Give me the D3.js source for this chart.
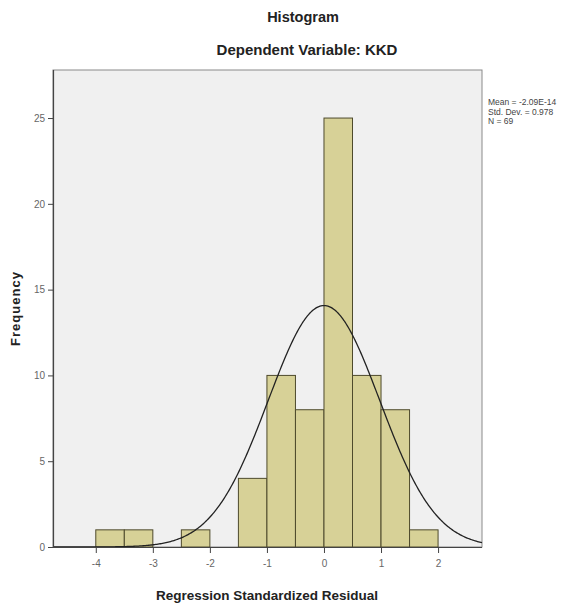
<!DOCTYPE html>
<html>
<head>
<meta charset="utf-8">
<script src="https://cdn.jsdelivr.net/npm/d3@7"></script>
<style>
	body { margin: 0; background: #fff; }
	text { font-family: "Liberation Sans", Arial, sans-serif; }
</style>
</head>
<body>
<div id="chart"></div>
<script>
// bins of width 0.5, lower edges
const binStarts = [-4, -3.5, -3, -2.5, -2, -1.5, -1, -0.5, 0, 0.5, 1, 1.5]
const counts = [1, 1, 0, 1, 0, 4, 10, 8, 25, 10, 8, 1]
const xTicks = [-4, -3, -2, -1, 0, 1, 2]
const yTicks = [0, 5, 10, 15, 20, 25]
const statLines = ["Mean = -2.09E-14", "Std. Dev. = 0.978", "N = 69"]
const mean = -2.09e-14
const sd = 0.978
const n = 69
const binWidth = 0.5

const width = 581, height = 609
const margin = { top: 70, right: 99, bottom: 62, left: 53 }

const svg = d3.select("#chart").append("svg").attr("width", width).attr("height", height)

const x = d3.scaleLinear().domain([-4.75, 2.77]).range([margin.left, width - margin.right])
const y = d3.scaleLinear().domain([0, 27.8]).range([height - margin.bottom, margin.top])

// plot background + frame
svg.append("rect")
	.attr("x", margin.left)
	.attr("y", margin.top)
	.attr("width", width - margin.right - margin.left)
	.attr("height", y(0) - margin.top)
	.attr("fill", "#f0f0f0")
	.attr("stroke", "#8a8a8a")
	.attr("stroke-width", 1)

// bars
svg.selectAll(".bar")
	.data(binStarts.map((s, i) => ({ x0: s, x1: s + binWidth, c: counts[i] })).filter(d => d.c > 0))
	.enter()
	.append("rect")
	.attr("class", "bar")
	.attr("x", d => x(d.x0))
	.attr("y", d => y(d.c))
	.attr("width", d => x(d.x1) - x(d.x0))
	.attr("height", d => y(0) - y(d.c))
	.attr("fill", "#d7d197")
	.attr("stroke", "#4e4a2c")
	.attr("stroke-width", 1)

// normal curve from the reported mean / sd / N
const pdf = v => Math.exp(-0.5 * ((v - mean) / sd) ** 2) / (sd * Math.sqrt(2 * Math.PI))
const curvePts = d3.range(x.domain()[0], x.domain()[1] + 0.001, 0.02).map(v => [v, n * binWidth * pdf(v)])
svg.append("path")
	.datum(curvePts)
	.attr("d", d3.line().x(d => x(d[0])).y(d => y(d[1])))
	.attr("fill", "none")
	.attr("stroke", "#222")
	.attr("stroke-width", 1.3)

// axes
const xAxis = svg.append("g")
	.attr("transform", `translate(0,${y(0)})`)
	.call(d3.axisBottom(x).tickValues(xTicks).tickSize(6).tickFormat(d => String(d)))
const yAxis = svg.append("g")
	.attr("transform", `translate(${margin.left},0)`)
	.call(d3.axisLeft(y).tickValues(yTicks).tickSize(5))

;[xAxis, yAxis].forEach(a => {
	a.select(".domain").attr("stroke", "#444").attr("stroke-width", 1.2)
	a.selectAll(".tick line").attr("stroke", "#444")
	a.selectAll(".tick text").attr("fill", "#666").style("font-size", "10px")
})
xAxis.selectAll(".tick text").attr("dy", "1.1em")
xAxis.select(".domain").attr("d", `M${margin.left},0.5H${width - margin.right}`)
yAxis.select(".domain").attr("d", `M0.5,${y(0)}V${margin.top}`)

// titles
svg.append("text")
	.attr("x", 303).attr("y", 22)
	.attr("text-anchor", "middle")
	.style("font-size", "14.5px").style("font-weight", "bold").attr("fill", "#222")
	.text("Histogram")
svg.append("text")
	.attr("x", 307).attr("y", 55)
	.attr("text-anchor", "middle")
	.style("font-size", "15px").style("font-weight", "bold").attr("fill", "#222")
	.text("Dependent Variable: KKD")

svg.append("text")
	.attr("x", 267).attr("y", 600)
	.attr("text-anchor", "middle")
	.style("font-size", "13.5px").style("font-weight", "bold").attr("fill", "#222")
	.text("Regression Standardized Residual")

svg.append("text")
	.attr("transform", `translate(20,${(margin.top + y(0)) / 2}) rotate(-90)`)
	.attr("text-anchor", "middle")
	.style("font-size", "13px").style("font-weight", "bold").style("letter-spacing", "1px").attr("fill", "#222")
	.text("Frequency")

// stats box
svg.selectAll(".stat")
	.data(statLines)
	.enter()
	.append("text")
	.attr("class", "stat")
	.attr("x", 488)
	.attr("y", (d, i) => 105 + i * 9.5)
	.style("font-size", "8.5px")
	.attr("fill", "#444")
	.text(d => d)
</script>
</body>
</html>
